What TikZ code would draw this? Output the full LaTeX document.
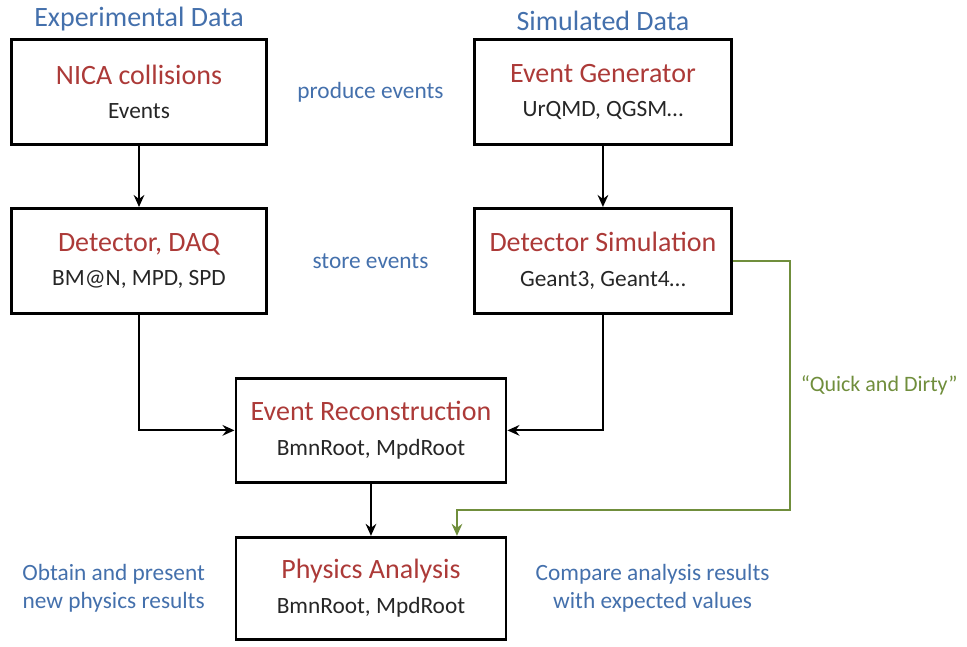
\documentclass[tikz,border=0pt]{standalone}
\usepackage{fontspec}
\setmainfont{Carlito}
\usepackage{tikz}
\usepackage{xcolor}
\usetikzlibrary{arrows.meta}
\usetikzlibrary{positioning,calc}
\definecolor{titlered}{RGB}{172,58,56}
\definecolor{noteblue}{RGB}{68,112,172}
\definecolor{quickgreen}{RGB}{112,142,60}
\newcommand{\boxtitle}[1]{{\fontsize{21}{26}\selectfont\color{titlered}#1}}

\begin{document}
\begin{tikzpicture}
\tikzset{procbox/.style={rectangle,draw,line width=2.2pt,minimum width=191.25pt,minimum height=78.75pt,align=center,text=black!85,font=\fontsize{17.5}{26}\selectfont}}
\tikzset{flow/.style={line width=1.5pt,-{Stealth[length=9pt,width=8pt,inset=3pt]}}}
\tikzset{quick/.style={line width=1.3pt,quickgreen,-{Stealth[length=9pt,width=8pt,inset=3pt]}}}
\tikzset{header/.style={inner sep=0pt,text=noteblue,font=\fontsize{21}{26}\selectfont}}
\tikzset{note/.style={inner sep=0pt,text=noteblue,align=center,font=\fontsize{17.5}{21}\selectfont}}
\tikzset{quicktext/.style={inner sep=0pt,text=quickgreen,font=\fontsize{16.5}{21}\selectfont}}
\useasboundingbox (0,0) rectangle (725.25pt,-484.5pt);
\node[procbox](nica) at (104.25pt,-69pt){\boxtitle{NICA collisions}\\Events};
\node[procbox,minimum width=192.75pt](gen)[right=153.75pt of nica]{\boxtitle{Event Generator}\\UrQMD, QGSM\ldots};
\node[procbox](daq)[below=45.75pt of nica]{\boxtitle{Detector, DAQ}\\BM@N, MPD, SPD};
\node[procbox,minimum width=192.75pt](sim)[below=45.75pt of gen]{\boxtitle{Detector Simulation}\\Geant3, Geant4\ldots};
\coordinate (m) at ($(daq.south)!.5!(sim.south)$);
\node[procbox,minimum width=202.5pt,minimum height=78pt](reco)[below=46.5pt of m]{\boxtitle{Event Reconstruction}\\BmnRoot,\ MpdRoot};
\node[procbox,minimum width=202.5pt,minimum height=76.5pt](ana)[below=39pt of reco]{\boxtitle{Physics Analysis}\\BmnRoot,\ MpdRoot};
\node[header](expd)[above=5pt of nica]{Experimental Data};
\node[header](simd)[above=5pt of gen]{Simulated Data};
\node[note](prod) at ($(nica.east)!.5!(gen.west)$){produce events};
\node[note](store) at ($(daq.east)!.5!(sim.west)$){store events};
\node[note](obtain)[left=22pt of ana]{Obtain and present\\new physics results};
\node[note](compare)[right=21pt of ana]{Compare analysis results\\with expected values};
\draw[flow](nica) -- (daq);
\draw[flow](gen) -- (sim);
\draw[flow](daq.south) |- (reco.west);
\draw[flow](sim.south) |- (reco.east);
\draw[flow](reco) -- (ana);
\coordinate (q) at ([xshift=64.5pt]ana.north);
\draw[quick](sim.east) -- ++(42.75pt,0) -- ++(0,-186.75pt) node[midway,right=7.5pt,quicktext]{“Quick and Dirty”} -| (q);
\end{tikzpicture}
\end{document}
